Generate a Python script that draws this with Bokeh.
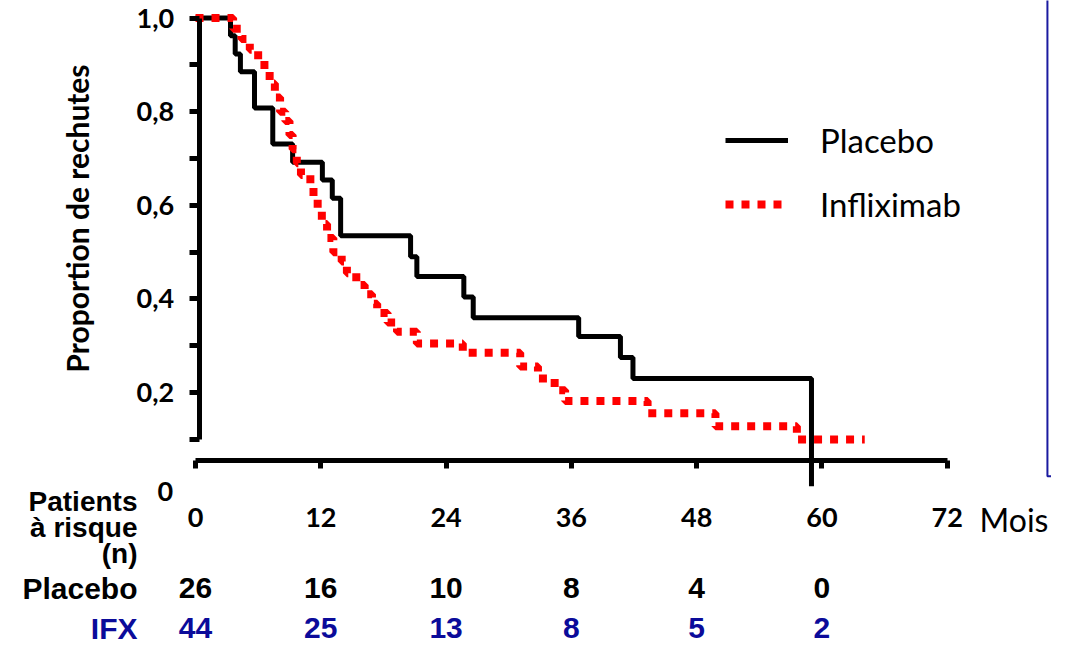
import math
from bokeh.plotting import figure
from bokeh.models import LinearAxis, FixedTicker, Range1d, Legend, LegendItem
from bokeh.core.properties import value
from bokeh.embed import file_html
from bokeh.resources import INLINE

# ---------------- data ----------------
placebo_months = [0, 3.35, 3.8, 4.3, 5.65, 7.4, 9.3, 12.15, 13.1, 13.9, 20.6, 21.2,
                  25.7, 26.6, 36.7, 40.7, 41.9, 59.0]
placebo_prop = [1.0, 0.962, 0.923, 0.885, 0.808, 0.731, 0.692, 0.654, 0.615, 0.535, 0.49, 0.448,
                0.404, 0.36, 0.32, 0.275, 0.23, 0.0]

ifx_months = [0, 3.6, 4.4, 5.2, 6.0, 6.6, 7.1, 7.6, 8.1, 8.6, 9.0, 9.3, 9.7, 10.1, 11.0, 11.3,
              11.7, 12.1, 12.6, 13.2, 14.0, 14.5, 15.4, 16.2, 16.9, 17.4, 18.4, 19.3, 21.2, 25.6,
              31.1, 32.8, 34.4, 35.4, 43.3, 49.8, 57.6, 64.1]
ifx_prop = [1.0, 0.977, 0.955, 0.932, 0.909, 0.886, 0.86, 0.83, 0.80, 0.78, 0.75, 0.72, 0.69, 0.665,
            0.64, 0.615, 0.59, 0.56, 0.53, 0.50, 0.48, 0.455, 0.43, 0.41, 0.39, 0.37, 0.35, 0.33,
            0.305, 0.285, 0.256, 0.23, 0.205, 0.182, 0.156, 0.128, 0.10, 0.10]

month_ticks = [0, 12, 24, 36, 48, 60, 72]
y_major = [0.2, 0.4, 0.6, 0.8, 1.0]
y_minor = [0.1, 0.3, 0.5, 0.7, 0.9]
y_labels = ["0,2", "0,4", "0,6", "0,8", "1,0"]

risk_months = [0, 12, 24, 36, 48, 60]
risk_placebo = [26, 16, 10, 8, 4, 0]
risk_ifx = [44, 25, 13, 8, 5, 2]

series_names = ["Placebo", "Infliximab"]
row_names = ["Placebo", "IFX"]
header_text = "Patients\nà risque\n(n)"
unit_text = "Mois"
y_title = "Proportion de rechutes"

# ---------------- layout helpers ----------------
W, H = 1051, 647
YAXIS_AT = 0.35          # month where the y axis is drawn
XAXIS_AT = 0.055         # proportion where the x axis is drawn
ROW_LABEL_X = -5.56
ROW_Y = {"header": -0.088, "Placebo": -0.2182, "IFX": -0.3036}

BLUE = "#0b0b9a"
RED = "#ff0000"

p = figure(width=W, height=H, x_range=Range1d(-18.68, 81.99), y_range=Range1d(-0.3442, 1.0374),
           x_axis_location=None, y_axis_location=None, output_backend="svg",
           toolbar_location=None, min_border=0, outline_line_color=None,
           background_fill_color="white", border_fill_color="white")
for g in p.grid:
    g.visible = False

# axes
xaxis = LinearAxis(fixed_location=XAXIS_AT, bounds=(0, 72), ticker=FixedTicker(ticks=month_ticks),
                   axis_line_width=5, axis_line_color="black",
                   major_tick_line_width=5, major_tick_line_color="black",
                   major_tick_out=8, major_tick_in=0, minor_tick_line_color=None,
                   major_label_standoff=39, major_label_text_font="Lato",
                   major_label_text_font_style="bold", major_label_text_font_size="27px",
                   major_label_text_color="black")
p.add_layout(xaxis, "below")

yaxis = LinearAxis(fixed_location=YAXIS_AT, bounds=(0.1, 1.0),
                   ticker=FixedTicker(ticks=y_major, minor_ticks=y_minor),
                   major_label_overrides=dict(zip(y_major, y_labels)),
                   axis_line_width=5, axis_line_color="black",
                   major_tick_line_width=5, major_tick_out=10, major_tick_in=0,
                   minor_tick_line_width=5, minor_tick_out=10, minor_tick_in=0,
                   minor_tick_line_color="black", major_tick_line_color="black",
                   major_label_standoff=15, major_label_text_font="Lato",
                   major_label_text_font_style="bold", major_label_text_font_size="27px",
                   major_label_text_color="black")
p.add_layout(yaxis, "left")

# lone "0" of the y scale
p.text(x=[YAXIS_AT], y=[0.0], text=["0"], x_offset=-26, y_offset=5, text_align="right",
       text_baseline="middle", text_font=value("Lato"), text_font_style="bold",
       text_font_size="27px", text_color="black")

# y title
p.text(x=[-11.4], y=[0.5718], text=[y_title], angle=math.pi / 2, text_align="center",
       text_baseline="middle", text_font=value("Lato"), text_font_style="bold",
       text_font_size="30px", text_color="black")

# curves
r_pl = p.step(placebo_months, placebo_prop, mode="after", line_color="black", line_width=5)
r_ifx = p.step(ifx_months, ifx_prop, mode="after", line_color=RED, line_width=8,
               line_dash="8 8")

legend = Legend(items=[LegendItem(label=series_names[0], renderers=[r_pl]),
                       LegendItem(label=series_names[1], renderers=[r_ifx])],
                location=(725, 423), orientation="vertical", padding=0, margin=0, spacing=24,
                glyph_width=63, glyph_height=30, label_height=30, label_standoff=32,
                label_text_font="Lato", label_text_font_size="33px", label_text_color="black",
                border_line_color=None, background_fill_alpha=0)
p.add_layout(legend)

# "Mois"
p.text(x=[75.1], y=[-0.0709], text=[unit_text], text_align="left", text_baseline="middle",
       text_font=value("Lato"), text_font_size="32px", text_color="black")

# at-risk table
p.text(x=[ROW_LABEL_X], y=[ROW_Y["header"]], text=[header_text], text_align="right",
       text_baseline="middle", text_font=value("Liberation Sans"), text_font_style="bold",
       text_font_size="28px", text_line_height=0.83, text_color="black")
p.text(x=[ROW_LABEL_X], y=[ROW_Y["Placebo"]], text=[row_names[0]], text_align="right",
       text_baseline="middle", text_font=value("Liberation Sans"), text_font_style="bold",
       text_font_size="30px", text_color="black")
p.text(x=[ROW_LABEL_X], y=[ROW_Y["IFX"]], text=[row_names[1]], text_align="right",
       text_baseline="middle", text_font=value("Liberation Sans"), text_font_style="bold",
       text_font_size="30px", text_color=BLUE)
p.text(x=risk_months, y=[ROW_Y["Placebo"]] * len(risk_months), text=[str(v) for v in risk_placebo],
       text_align="center", text_baseline="middle", text_font=value("Liberation Sans"),
       text_font_style="bold", text_font_size="30px", text_color="black")
p.text(x=risk_months, y=[ROW_Y["IFX"]] * len(risk_months), text=[str(v) for v in risk_ifx],
       text_align="center", text_baseline="middle", text_font=value("Liberation Sans"),
       text_font_style="bold", text_font_size="30px", text_color=BLUE)

# blue frame edge on the right
p.line(x=[81.6, 81.6, 90], y=[1.2, 0.0216, 0.0216], line_color="#1a1aa0", line_width=2)

open("out.html", "w").write(file_html(p, INLINE))
